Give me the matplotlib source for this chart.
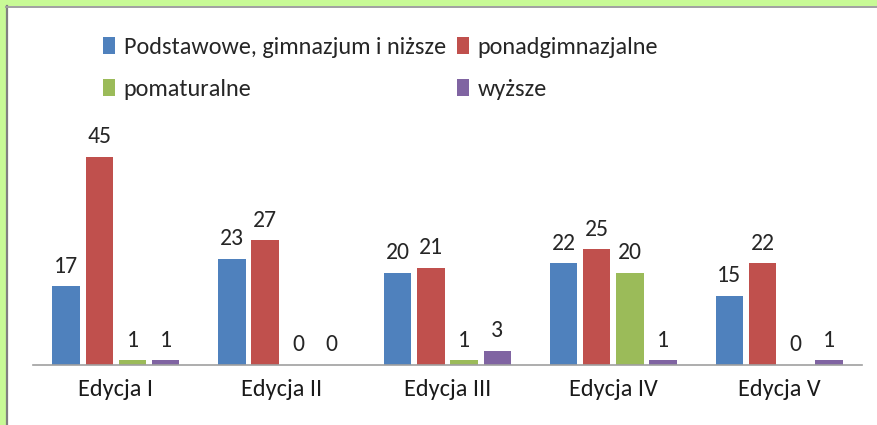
import numpy as np
import matplotlib.pyplot as plt
from matplotlib.patches import Rectangle, Patch

# dane
kategorie = ['Edycja I', 'Edycja II', 'Edycja III', 'Edycja IV', 'Edycja V']
serie = ['Podstawowe, gimnazjum i niższe', 'ponadgimnazjalne', 'pomaturalne', 'wyższe']
podstawowe = [17, 23, 20, 22, 15]
ponadgimnazjalne = [45, 27, 21, 25, 22]
pomaturalne = [1, 0, 1, 20, 0]
wyzsze = [1, 0, 3, 1, 1]
kolory = ['#4F81BD', '#C0504D', '#9BBB59', '#8064A2']

plt.rcParams['font.family'] = ['Carlito', 'Liberation Sans', 'DejaVu Sans']

fig = plt.figure(figsize=(8.77, 4.25), dpi=100)
fig.patch.set_facecolor('white')

# zielona ramka u gory i z lewej
fig.patches.append(Rectangle((0, 1 - 6/425), 1, 6/425, transform=fig.transFigure,
                             facecolor='#C8FA96', edgecolor='none', zorder=0))
fig.patches.append(Rectangle((0, 0), 6/877, 1, transform=fig.transFigure,
                             facecolor='#C8FA96', edgecolor='none', zorder=0))
fig.add_artist(plt.Line2D([7/877, 7/877], [0, 1 - 6/425], transform=fig.transFigure,
                          color='#808080', lw=1.6))
fig.add_artist(plt.Line2D([6/877, 1], [1 - 7/425, 1 - 7/425], transform=fig.transFigure,
                          color='#A0A0A0', lw=1.4))

ax = fig.add_axes([33/877, 60/425, 829/877, 231/425])
x = np.arange(len(kategorie))
szer = 0.165
dane = [podstawowe, ponadgimnazjalne, pomaturalne, wyzsze]
for i, (wart, kol) in enumerate(zip(dane, kolory)):
    pos = x + (i - 1.5) * 0.2
    bars = ax.bar(pos, wart, width=szer, color=kol, zorder=2)
    for b, v in zip(bars, wart):
        ax.annotate(str(v), (b.get_x() + b.get_width() / 2, v), xytext=(0, 7),
                    textcoords='offset points', ha='center', va='bottom',
                    fontsize=17, color='#262626')

ax.set_xlim(-0.5, 4.5)
ax.set_ylim(0, 50)
ax.set_yticks([])
ax.set_xticks(x)
ax.set_xticklabels(kategorie, fontsize=17.5, color='#1a1a1a')
ax.tick_params(axis='x', length=0, pad=10)
for s in ['top', 'right', 'left']:
    ax.spines[s].set_visible(False)
ax.spines['bottom'].set_color('#A0A0A0')
ax.spines['bottom'].set_linewidth(1.2)

# kolejnosc wierszami: legenda wypelnia kolumnami
uchwyty = [Patch(facecolor=k, edgecolor='none') for k in kolory]
kol_ord = [0, 2, 1, 3]
fig.legend([uchwyty[i] for i in kol_ord], [serie[i] for i in kol_ord], ncol=2,
           loc='upper left', bbox_to_anchor=(81/877, 1 - 15/425),
           frameon=False, fontsize=17.5, handlelength=0.5, handleheight=0.7,
           handletextpad=0.35, columnspacing=0.45, labelspacing=0.88, labelcolor='#262626')

fig.savefig('out.png', dpi=100)
